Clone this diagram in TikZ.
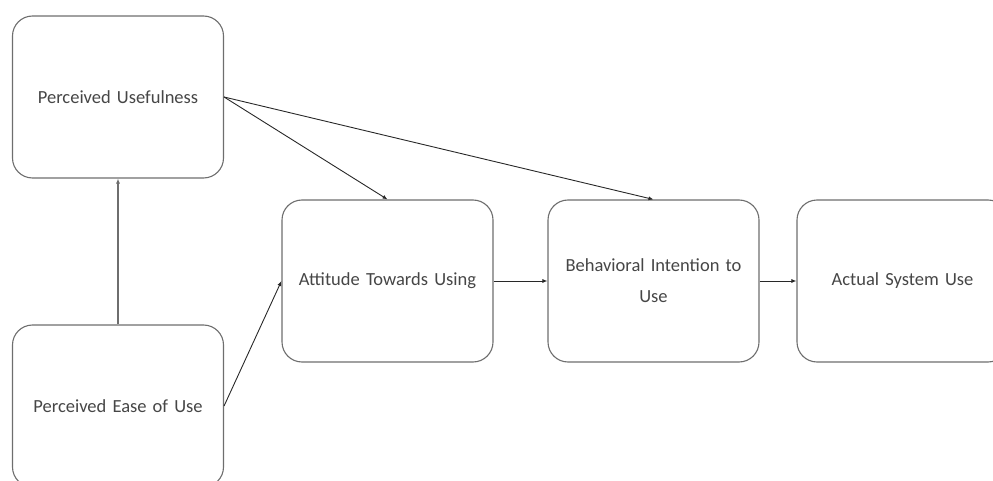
\documentclass[tikz,border=0pt]{standalone}
\usepackage{fontspec}
\setmainfont{Carlito}
\usetikzlibrary{arrows.meta,positioning}
\definecolor{TamBorder}{RGB}{110,110,110}
\definecolor{TamText}{RGB}{70,70,70}
\definecolor{TamLine}{RGB}{40,40,40}
\tikzset{
  construto/.style={draw=TamBorder, fill=white, rounded corners=20pt, line width=1.1pt,
                align=center, font=\fontsize{18.5}{31}\selectfont, text=TamText,
                text width=205pt, minimum width=211pt, minimum height=162pt, inner sep=0pt},
  ligacao/.style={-{Latex[length=5pt,width=4pt]}, line width=0.9pt, TamLine},
  ligacaocinza/.style={-{Latex[length=5pt,width=4pt]}, line width=1.1pt, TamBorder},
}
\begin{document}
\begin{tikzpicture}[x=1pt, y=1pt]

  \useasboundingbox (0,0) rectangle (993,-481);
  \clip (0,0) rectangle (993,-481);

  % --- Construtos do modelo ---------------------------------------------------
  \node[construto] (pu)  at (118, -97)  {Perceived Usefulness};
  \node[construto] (peu) at (118, -406) {Perceived Ease of Use};
  \node[construto] (atu) at (387.5, -281) {Attitude Towards Using};
  \node[construto] (biu) at (653.5, -281) {Behavioral Intention to\\Use};
  \node[construto] (asu) at (902.5, -281) {Actual System Use};

  % --- Relações ---------------------------------------------------------------
  \draw[ligacaocinza] (peu.north) -- (pu.south);
  \draw[ligacao] (pu.east) -- (atu.north);
  \draw[ligacao] (pu.east) -- (biu.north);
  \draw[ligacao] (peu.east) -- (atu.west);
  \draw[ligacao] (atu) -- (biu);
  \draw[ligacao] (biu) -- (asu);

\end{tikzpicture}
\end{document}
